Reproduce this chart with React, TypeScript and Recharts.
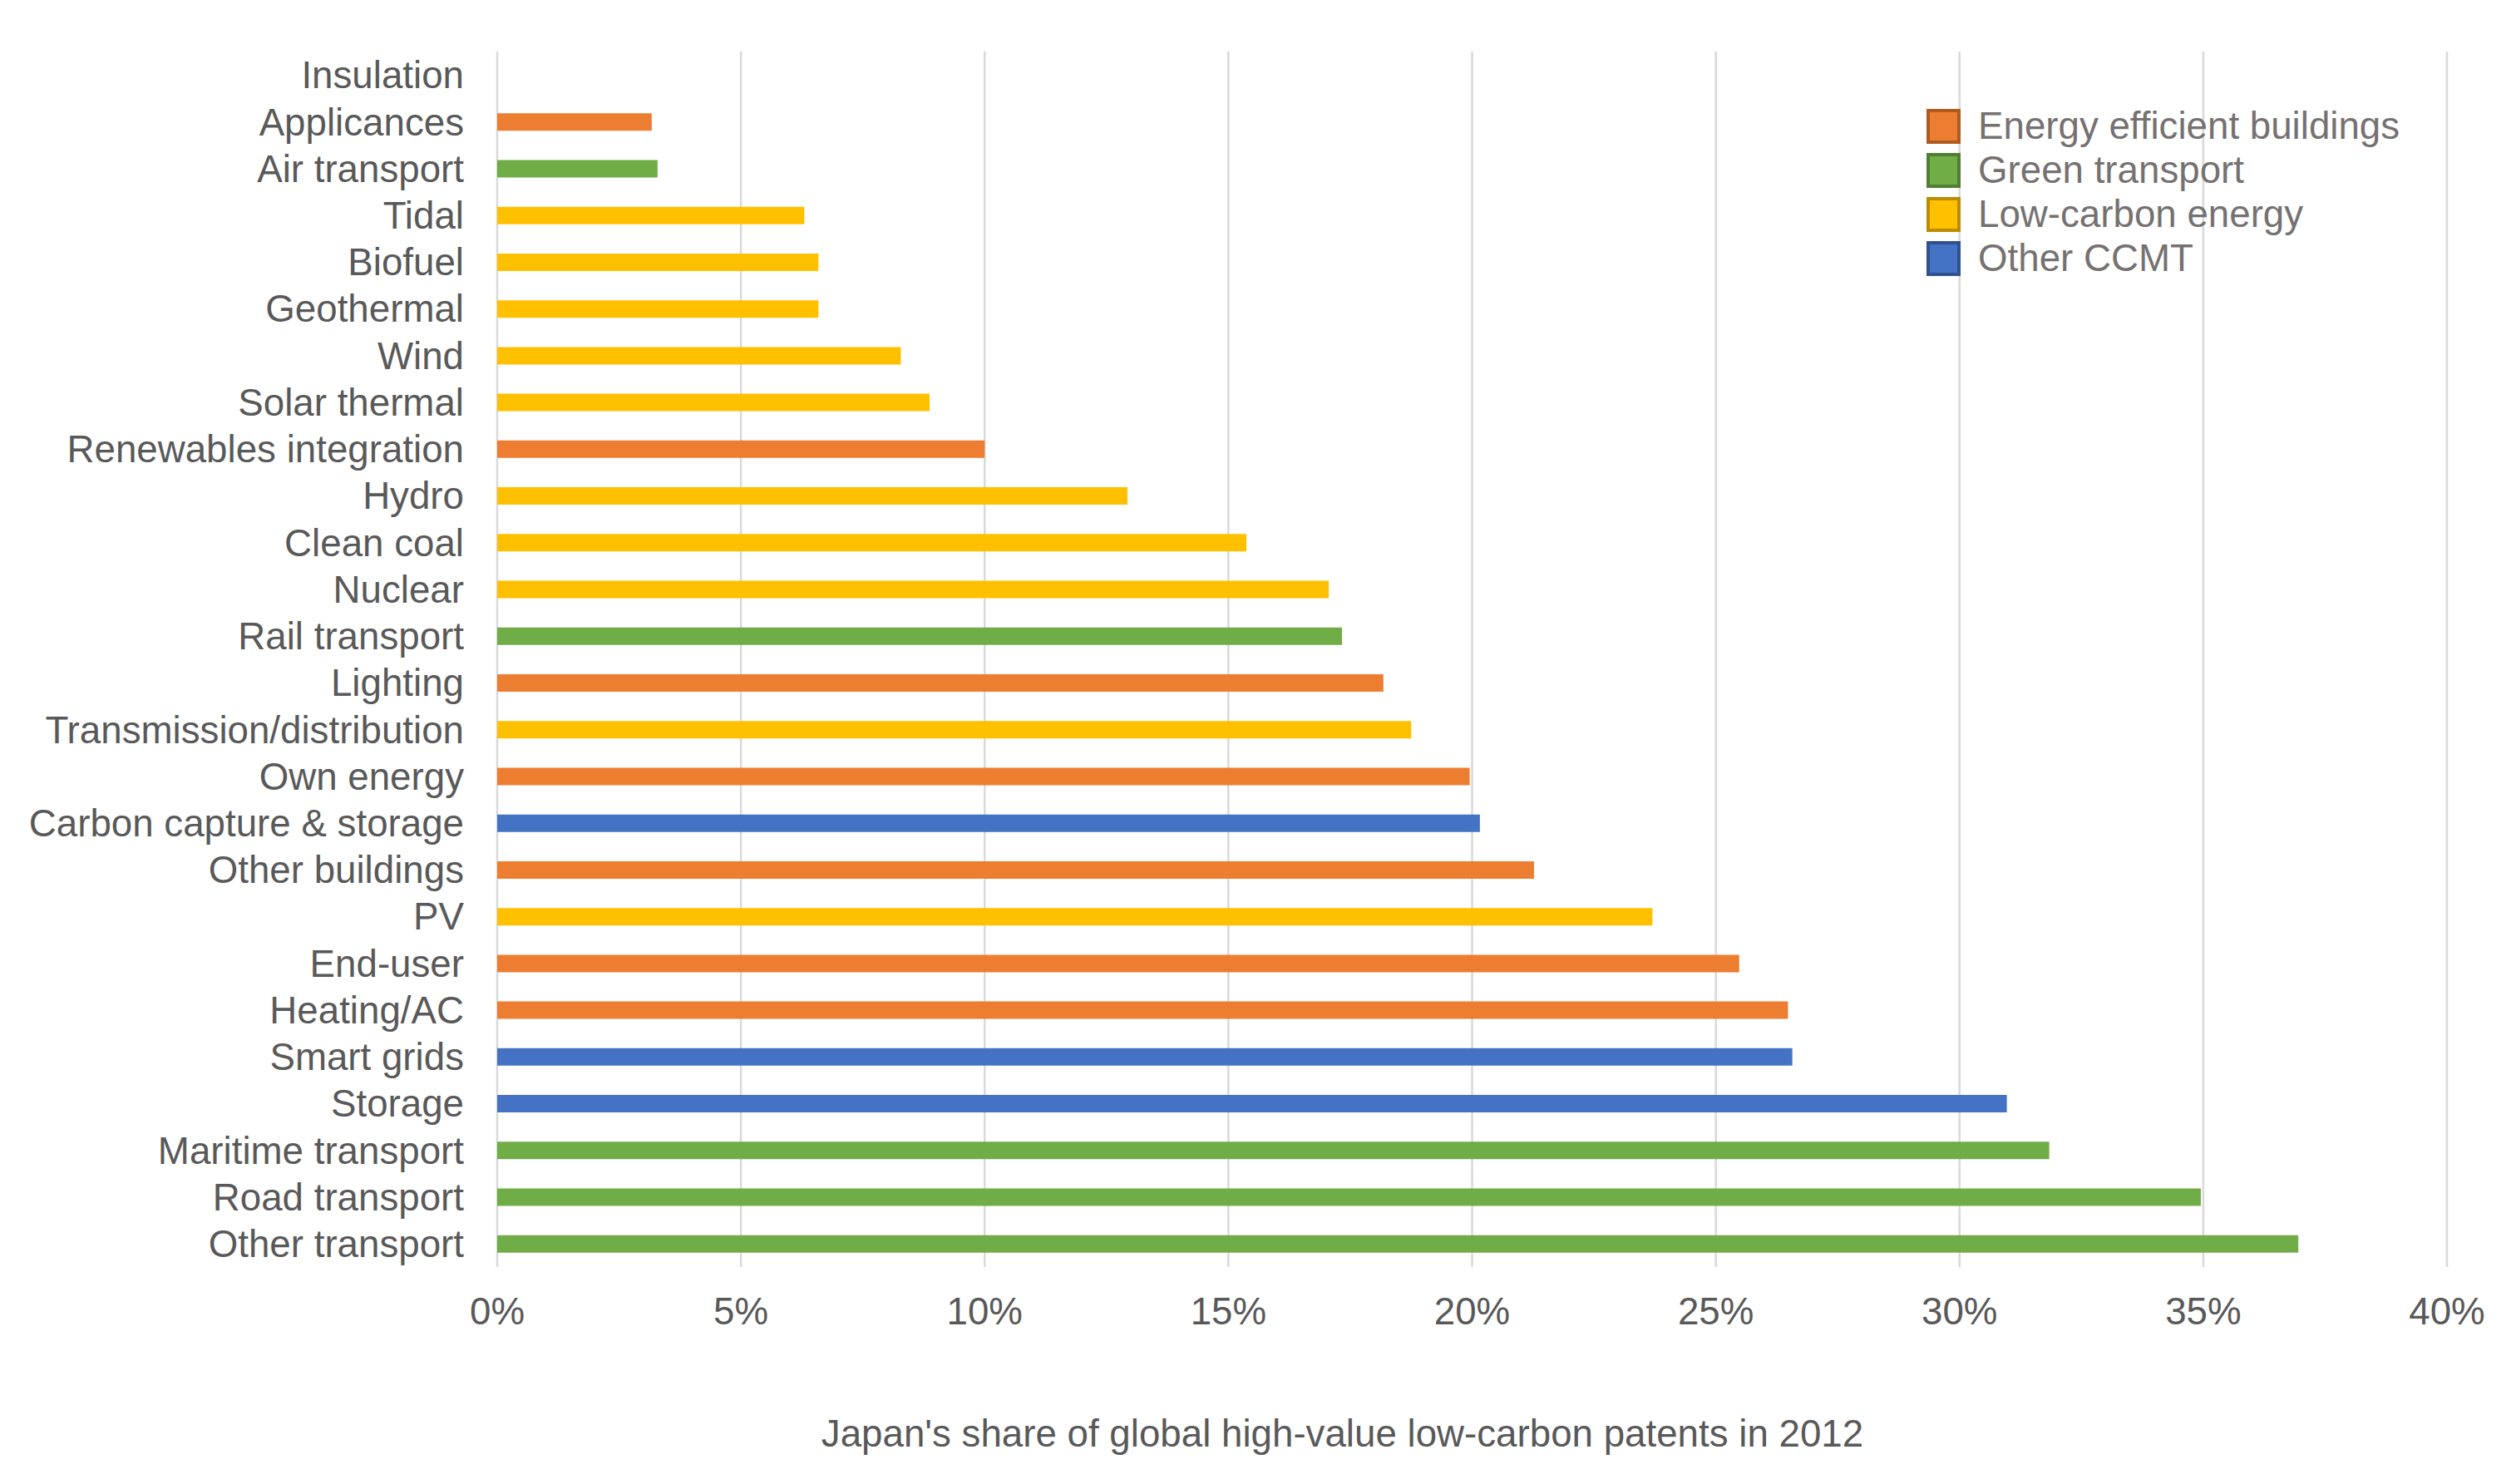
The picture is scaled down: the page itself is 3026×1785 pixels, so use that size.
import { BarChart, Bar, XAxis, YAxis, CartesianGrid, Legend } from "recharts";

const FONT = '"Liberation Sans", Arial, sans-serif';

const categories = [
  "Insulation",
  "Applicances",
  "Air transport",
  "Tidal",
  "Biofuel",
  "Geothermal",
  "Wind",
  "Solar thermal",
  "Renewables integration",
  "Hydro",
  "Clean coal",
  "Nuclear",
  "Rail transport",
  "Lighting",
  "Transmission/distribution",
  "Own energy",
  "Carbon capture & storage",
  "Other buildings",
  "PV",
  "End-user",
  "Heating/AC",
  "Smart grids",
  "Storage",
  "Maritime transport",
  "Road transport",
  "Other transport",
];

// Japan's share, in %
const shares = [
  0, 3.17, 3.29, 6.3, 6.59, 6.59, 8.28, 8.87, 10.0, 12.93, 15.37, 17.06, 17.33,
  18.18, 18.75, 19.95, 20.16, 21.27, 23.7, 25.48, 26.48, 26.57, 30.97, 31.84,
  34.95, 36.95,
];

// 0 = buildings, 1 = transport, 2 = energy, 3 = other
const groupOf = [
  0, 0, 1, 2, 2, 2, 2, 2, 0, 2, 2, 2, 1, 0, 2, 0, 3, 0, 2, 0, 0, 3, 3, 1, 1, 1,
];

const groups = [
  "Energy efficient buildings",
  "Green transport",
  "Low-carbon energy",
  "Other CCMT",
];
const groupKeys = ["buildings", "transport", "energy", "other"];
const fills = ["#ED7D31", "#70AD47", "#FFC000", "#4472C4"];
const edges = ["#AE5A21", "#507E32", "#BC8C00", "#2F528F"];

const xTicks = [0, 0.05, 0.1, 0.15, 0.2, 0.25, 0.3, 0.35, 0.4];

const rows = categories.map((name, i) => ({
  name,
  [groupKeys[groupOf[i]]]: shares[i] / 100,
}));

const FS = 45.7;

const LegendBox = () => (
  <div style={{ fontFamily: FONT, fontSize: FS, color: "#767171" }}>
    {groups.map((g, i) => (
      <div
        key={g}
        style={{ display: "flex", alignItems: "center", height: 53 }}
      >
        <span
          style={{
            display: "inline-block",
            width: 41,
            height: 42,
            boxSizing: "border-box",
            background: fills[i],
            border: `4px solid ${edges[i]}`,
            marginRight: 21,
          }}
        />
        <span style={{ lineHeight: "53px", whiteSpace: "nowrap" }}>{g}</span>
      </div>
    ))}
  </div>
);

export default function App() {
  return (
    <div style={{ position: "absolute", left: 0, top: 0, background: "#fff" }}>
      <BarChart
        width={3026}
        height={1785}
        data={rows}
        layout="vertical"
        margin={{ top: 62, right: 83, bottom: 0, left: 0 }}
      >
        <CartesianGrid
          horizontal={false}
          stroke="#D9D9D9"
          strokeWidth={2.5}
        />
        <XAxis
          type="number"
          domain={[0, 0.4]}
          ticks={xTicks}
          height={261}
          axisLine={false}
          tickLine={false}
          tickSize={0}
          tickMargin={37}
          tickFormatter={(v: number) => `${Math.round(v * 100)}%`}
          tick={{ fontSize: FS, fill: "#595959", fontFamily: FONT }}
          label={{
            value: "Japan's share of global high-value low-carbon patents in 2012",
            position: "insideBottom",
            offset: 45,
            dx: -156,
            fontSize: FS,
            fill: "#595959",
            fontFamily: FONT,
          }}
        />
        <YAxis
          type="category"
          dataKey="name"
          width={598}
          interval={0}
          axisLine={false}
          tickLine={false}
          tickSize={0}
          tickMargin={40}
          tick={{ fontSize: FS, fill: "#595959", fontFamily: FONT }}
        />
        <Legend
          content={<LegendBox />}
          layout="horizontal"
          align="center"
          verticalAlign="middle"
          wrapperStyle={{ left: 2317, top: 125, width: "auto" }}
        />
        {groupKeys.map((k, i) => (
          <Bar
            key={k}
            dataKey={k}
            name={groups[i]}
            stackId="share"
            fill={fills[i]}
            barSize={21}
            isAnimationActive={false}
          />
        ))}
      </BarChart>
    </div>
  );
}
